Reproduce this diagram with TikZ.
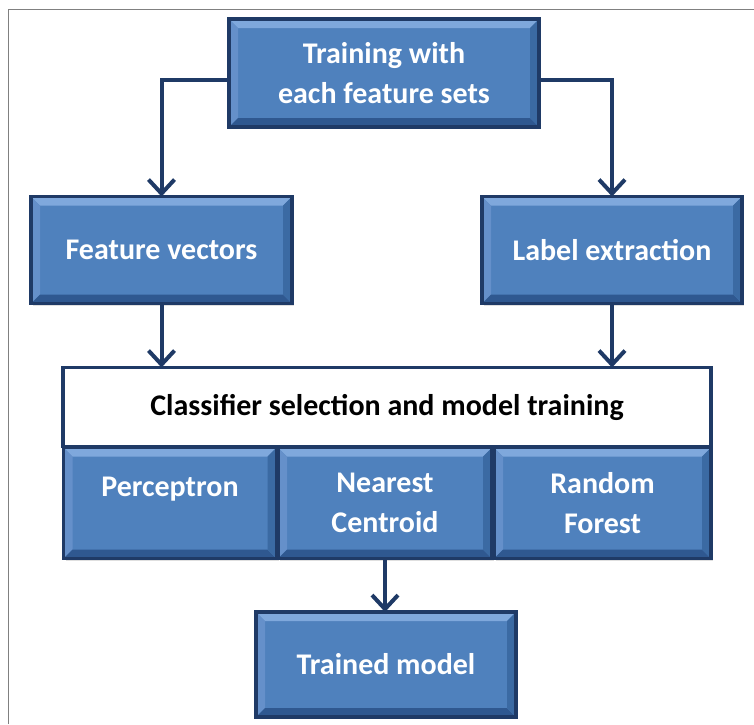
\documentclass[tikz,border=0pt]{standalone}
\usepackage{fontspec}
\setmainfont{Carlito}
\usetikzlibrary{arrows.meta, shadows}

\definecolor{boxblue}{HTML}{4F81BD}
\definecolor{bevtop}{HTML}{7FA8DC}
\definecolor{bevleft}{HTML}{6590CA}
\definecolor{bevbot}{HTML}{2F5890}
\definecolor{bevright}{HTML}{3B6AA3}
\definecolor{navy}{HTML}{1F3A66}
\newcommand{\bv}{9pt}

\tikzset{
	bluebox/.style={draw=navy, line width=3.5pt, fill=boxblue, inner sep=0pt, outer sep=0pt,
		text=white, align=center, font=\bfseries\fontsize{30}{40}\selectfont,
		drop shadow={shadow xshift=2pt, shadow yshift=-2pt, opacity=0.25},
		path picture={
			\fill[bevtop] (path picture bounding box.north west) -- (path picture bounding box.north east)
				-- ([shift={(-\bv,-\bv)}]path picture bounding box.north east) -- ([shift={(\bv,-\bv)}]path picture bounding box.north west) -- cycle;
			\fill[bevleft] (path picture bounding box.north west) -- (path picture bounding box.south west)
				-- ([shift={(\bv,\bv)}]path picture bounding box.south west) -- ([shift={(\bv,-\bv)}]path picture bounding box.north west) -- cycle;
			\fill[bevbot] (path picture bounding box.south west) -- (path picture bounding box.south east)
				-- ([shift={(-\bv,\bv)}]path picture bounding box.south east) -- ([shift={(\bv,\bv)}]path picture bounding box.south west) -- cycle;
			\fill[bevright] (path picture bounding box.north east) -- (path picture bounding box.south east)
				-- ([shift={(-\bv,\bv)}]path picture bounding box.south east) -- ([shift={(-\bv,-\bv)}]path picture bounding box.north east) -- cycle;
		}},
	whitebox/.style={draw=navy, line width=3.5pt, fill=white, inner sep=0pt, outer sep=0pt,
		font=\bfseries\fontsize{30}{36}\selectfont},
	arr/.style={draw=navy, line width=4pt, -{Straight Barb[length=14pt,width=26pt]}}
}

\begin{document}
\begin{tikzpicture}[x=1pt, y=-1pt]
	\useasboundingbox (0,0) rectangle (754,724);
	% frame
	\draw[gray, line width=1.5pt] (8.5,724) -- (8.5,9.5) -- (754,9.5);
	% boxes
	\node[bluebox, minimum width=310, minimum height=108] (train) at (384,73) {Training with\\each feature sets};
	\node[bluebox, minimum width=261, minimum height=107] (feat) at (161.5,250) {Feature vectors};
	\node[bluebox, minimum width=260, minimum height=107] (label) at (612,250) {Label extraction};
	\node[whitebox, minimum width=648, minimum height=79] (cls) at (387,407) {Classifier selection and model training};
	\node[bluebox, minimum width=213, minimum height=111] (perc) at (170,503) {Perceptron\\[-8pt]~};
	\node[bluebox, minimum width=214, minimum height=111] (ncent) at (385,503) {Nearest\\Centroid};
	\node[bluebox, minimum width=217, minimum height=111] (rforest) at (602.5,503) {Random\\Forest};
	\node[bluebox, minimum width=260, minimum height=105] (model) at (386,664.5) {Trained model};
	% arrows
	\draw[arr] ([yshift=-7pt]train.west) -| (feat.north);
	\draw[arr] ([yshift=-7pt]train.east) -| (label.north);
	\draw[arr] (feat.south) -- (feat.south |- cls.north);
	\draw[arr] (label.south) -- (label.south |- cls.north);
	\draw[arr] (ncent.south) -- (ncent.south |- model.north);
\end{tikzpicture}
\end{document}
